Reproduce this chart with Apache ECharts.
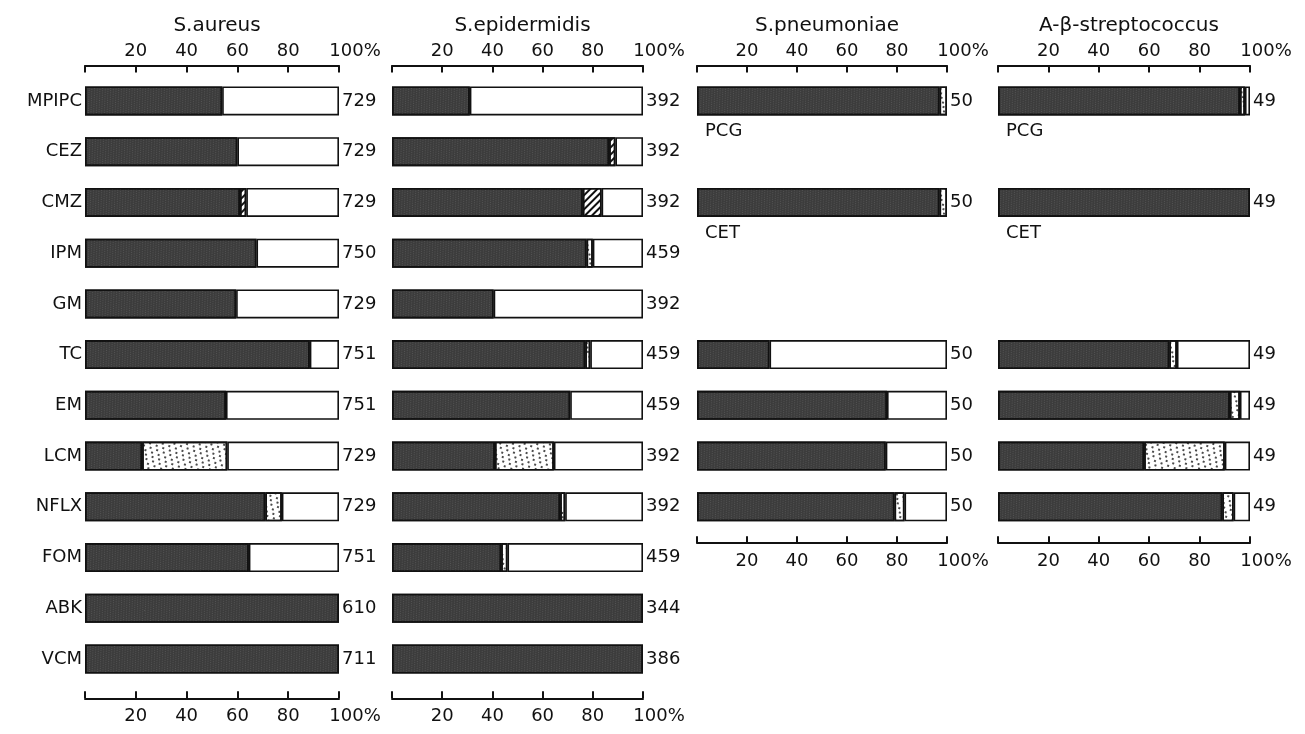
<!DOCTYPE html>
<html><head><meta charset="utf-8">
<script src="https://cdn.jsdelivr.net/npm/echarts@6/dist/echarts.min.js"></script>
<style>html,body{margin:0;padding:0;background:#fff}#c{width:1305px;height:734px}</style>
</head><body><div id="c"></div>
<script>
// ---------- data ----------
const drugs = ['MPIPC','CEZ','CMZ','IPM','GM','TC','EM','LCM','NFLX','FOM','ABK','VCM'];
const titles = ['S.aureus','S.epidermidis','S.pneumoniae','A-β-streptococcus'];
const tickValues = [0,20,40,60,80,100];

const aureusDark  = [54,60,61,67.5,59.5,88.5,55.5,22.5,71,64.5,100,100];
const aureusHatch = [0,0,2.5,0,0,0,0,0,0,0,0,0];
const aureusDot   = [0,0,0,0,0,0,0,33.5,6.5,0,0,0];
const aureusN     = [729,729,729,750,729,751,751,729,729,751,610,711];

const epiDark  = [31,86.5,76,77.5,40.5,77,71,41,67,43.5,100,100];
const epiHatch = [0,2.5,7.5,0,0,0,0,0,0,0,0,0];
const epiDot   = [0,0,0,2.5,0,2,0,23.5,2,2.5,0,0];
const epiN     = [392,392,392,459,392,459,459,392,392,459,344,386];

const strepRows = ['PCG','','CET','','','TC','EM','LCM','NFLX'];
const pneuDark = [97,null,97,null,null,29,76,75.5,79];
const pneuDot  = [3,null,3,null,null,0,0,0,4];
const pneuN    = [50,'',50,'','',50,50,50,50];

const strepDark = [96,null,100,null,null,68,92,58,89];
const strepDot  = [2,null,0,null,null,3,4,32,4.5];
const strepN    = [49,'',49,'','',49,49,49,49];

// ---------- layout ----------
const FONT = 'DejaVu Sans';
const panelX = [[85,339],[392,643],[697,947],[998,1250]];
const band = 50.73, gTop = 75.6;
const panels = [
  {dark:aureusDark, hatch:aureusHatch, dot:aureusDot, n:aureusN, rows:12, cats:drugs, showNames:true, bottomOff:14},
  {dark:epiDark, hatch:epiHatch, dot:epiDot, n:epiN, rows:12, cats:drugs, showNames:false, bottomOff:14},
  {dark:pneuDark, hatch:null, dot:pneuDot, n:pneuN, rows:9, cats:strepRows, showNames:false, inner:true, bottomOff:11},
  {dark:strepDark, hatch:null, dot:strepDot, n:strepN, rows:9, cats:strepRows, showNames:false, inner:true, bottomOff:11}
];

const grids=[], xAxes=[], yAxes=[], series=[], title=[];
const z = v => (v===0||v==null)?null:v;
const hatchDecal = {symbol:'rect', symbolSize:1, color:'#111', dashArrayX:[1,0], dashArrayY:[2,3], rotation:-Math.PI/4};
const dotDecal = {symbol:'circle', symbolSize:1, color:'#111', dashArrayX:[[2,5],[0,3,2,2],[0,5,2,0]], dashArrayY:[2,2], rotation:0.35};
const darkDecal = {symbol:'rect', symbolSize:1, color:'rgba(255,255,255,0.12)', dashArrayX:[[1,2],[0,1,1,1],[0,2,1,0]], dashArrayY:[1,1], rotation:0.5};
const border = {borderColor:'#111', borderWidth:1.6};

panels.forEach((p,i)=>{
  const [x0,x1] = panelX[i];
  grids.push({left:x0, top:gTop, width:x1-x0, height:band*p.rows});
  title.push({text:titles[i], left:(x0+x1)/2, top:11, textAlign:'center',
    textStyle:{fontFamily:FONT, fontSize:20, fontWeight:'normal', color:'#111'}});
  const axisCommon = (pos, off, margin) => ({
    type:'value', gridIndex:i, min:0, max:100, interval:20, position:pos, offset:off,
    axisLine:{show:true, lineStyle:{color:'#111', width:2}},
    axisTick:{show:true, inside:true, length:7, lineStyle:{color:'#111', width:2}},
    splitLine:{show:false},
    axisLabel:{show:true, margin:margin, fontFamily:FONT, fontSize:18, color:'#111',
      formatter: v => v===0 ? '' : (v===100 ? '{p|100%}' : String(v)),
      rich:{p:{fontFamily:FONT, fontSize:18, color:'#111', padding:[0,0,0,32]}}}
  });
  xAxes.push(axisCommon('top', 10, 5));
  xAxes.push(axisCommon('bottom', p.bottomOff, 9));
  yAxes.push({type:'category', gridIndex:i, data:p.cats, inverse:true,
    axisLine:{show:false}, axisTick:{show:false},
    axisLabel:{show:p.showNames, margin:3, fontFamily:FONT, fontSize:18, color:'#111'}});
  yAxes.push({type:'category', gridIndex:i, data:p.n.map(String), inverse:true, position:'right',
    axisLine:{show:false}, axisTick:{show:false},
    axisLabel:{show:true, margin:3, fontFamily:FONT, fontSize:18, color:'#111'}});
  const xi = i*2, yi = i*2, st = 's'+i;
  const white = p.dark.map((d,k)=> d==null?null: 100 - d - (p.hatch?p.hatch[k]:0) - p.dot[k]);
  const base = {type:'bar', xAxisIndex:xi, yAxisIndex:yi, stack:st, barWidth:29, silent:true};
  series.push(Object.assign({}, base, {name:'dark', data:p.dark.map(z),
    itemStyle:Object.assign({color:'#3c3c3c', decal:darkDecal}, border),
    label: p.inner ? {show:true, position:[8,36], fontFamily:FONT, fontSize:18, color:'#111',
      formatter: prm => p.cats[prm.dataIndex]==='PCG'||p.cats[prm.dataIndex]==='CET' ? p.cats[prm.dataIndex] : ''} : {show:false}}));
  if (p.hatch) series.push(Object.assign({}, base, {name:'hatch', data:p.hatch.map(z),
    itemStyle:Object.assign({color:'#fff', decal:hatchDecal}, border)}));
  series.push(Object.assign({}, base, {name:'dot', data:p.dot.map(z),
    itemStyle:Object.assign({color:'#fff', decal:dotDecal}, border)}));
  series.push(Object.assign({}, base, {name:'white', data:white.map(v=> v!=null && v>0.2 ? v : null),
    itemStyle:Object.assign({color:'#fff'}, border)}));
});

const chart = echarts.init(document.getElementById('c'), null, {renderer:'canvas'});
chart.setOption({animation:false, backgroundColor:'#fff', title, grid:grids, xAxis:xAxes, yAxis:yAxes, series});
</script></body></html>
